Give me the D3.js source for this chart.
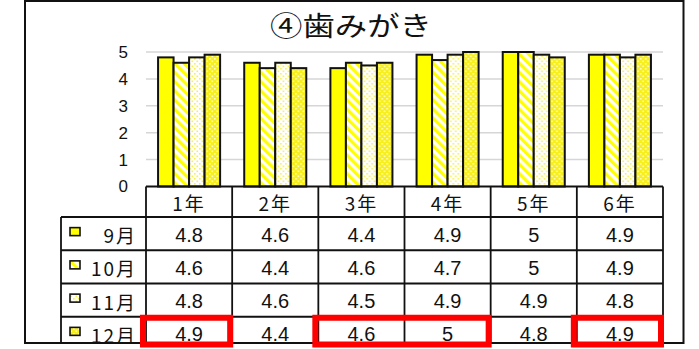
<!DOCTYPE html>
<html>
<head>
<meta charset="utf-8">
<script src="https://cdn.jsdelivr.net/npm/d3@7"></script>
<style>
  html, body { margin: 0; padding: 0; background: #fff; }
  svg { display: block; }
</style>
</head>
<body>
<svg id="chart" width="699" height="349"></svg>
<script>
// Tooth brushing survey: average score per grade, four monthly surveys
const title = "④歯みがき";
const grades = ["1年", "2年", "3年", "4年", "5年", "6年"];
const months = ["9月", "10月", "11月", "12月"];
const sep = [4.8, 4.6, 4.4, 4.9, 5, 4.9];
const oct = [4.6, 4.4, 4.6, 4.7, 5, 4.9];
const nov = [4.8, 4.6, 4.5, 4.9, 4.9, 4.8];
const dec = [4.9, 4.4, 4.6, 5, 4.8, 4.9];
const yTicks = [0, 1, 2, 3, 4, 5];
// December cells outlined in red (runs of adjacent grades)
const highlightRuns = [["1年"], ["3年", "4年"], ["6年"]];

const seriesValues = [sep, oct, nov, dec];
const fills = ["#ffff00", "url(#stripe)", "url(#dotLight)", "url(#dotDense)"];

const svg = d3.select("#chart");
const defs = svg.append("defs");

// diagonal yellow stripes on white
const stripe = defs.append("pattern").attr("id", "stripe")
  .attr("patternUnits", "userSpaceOnUse").attr("width", 6.5).attr("height", 6.5)
  .attr("patternTransform", "rotate(-45)");
stripe.append("rect").attr("width", 6.5).attr("height", 6.5).attr("fill", "#fff");
stripe.append("rect").attr("width", 3.2).attr("height", 6.5).attr("fill", "#ffff00");

// sparse yellow dots on white
const dotL = defs.append("pattern").attr("id", "dotLight")
  .attr("patternUnits", "userSpaceOnUse").attr("width", 5).attr("height", 5);
dotL.append("rect").attr("width", 5).attr("height", 5).attr("fill", "#fff");
dotL.append("rect").attr("x", 0.5).attr("y", 0.5).attr("width", 1.6).attr("height", 1.6).attr("fill", "#f6f24a");
dotL.append("rect").attr("x", 3).attr("y", 3).attr("width", 1.6).attr("height", 1.6).attr("fill", "#f6f24a");

// white dots on yellow
const dotD = defs.append("pattern").attr("id", "dotDense")
  .attr("patternUnits", "userSpaceOnUse").attr("width", 5).attr("height", 5);
dotD.append("rect").attr("width", 5).attr("height", 5).attr("fill", "#f7ef1a");
dotD.append("rect").attr("x", 0.5).attr("y", 0.5).attr("width", 1.6).attr("height", 1.6).attr("fill", "#fffbd0");
dotD.append("rect").attr("x", 3).attr("y", 3).attr("width", 1.6).attr("height", 1.6).attr("fill", "#fffbd0");

const plotLeft = 146, plotRight = 663, plotTop = 52, axisY = 186.5;
const tableLeft = 61, headerBottom = 217, frameBottom = 343;

const x0 = d3.scaleBand().domain(grades).range([plotLeft, plotRight]);
const x1 = d3.scaleBand().domain(months)
  .range([x0.bandwidth() * 0.14, x0.bandwidth() * 0.86]);
const y = d3.scaleLinear().domain([0, 5]).range([axisY, plotTop]);
const rowY = d3.scaleBand().domain(months).range([headerBottom, headerBottom + 4 * 33.25]);

// outer frame
svg.append("rect").attr("x", 25).attr("y", 1).attr("width", 658.5).attr("height", frameBottom - 1)
  .attr("fill", "#fff").attr("stroke", "#111").attr("stroke-width", 2);

// title
svg.append("text").attr("x", 351).attr("y", 36).attr("text-anchor", "middle")
  .attr("font-family", "'Noto Sans CJK JP', sans-serif").attr("font-size", 27)
  .attr("font-weight", 400).attr("fill", "#111")
  .attr("textLength", 162).attr("lengthAdjust", "spacingAndGlyphs")
  .text(title);

// gridlines
svg.append("g").selectAll("line").data(yTicks.filter(d => d > 0)).join("line")
  .attr("x1", plotLeft).attr("x2", plotRight)
  .attr("y1", d => y(d)).attr("y2", d => y(d))
  .attr("stroke", "#d6d6d6").attr("stroke-width", 1.5);

// y axis labels
const yAxis = d3.axisLeft(y).tickValues(yTicks).tickSize(0).tickPadding(0).tickFormat(d3.format("d"));
const yg = svg.append("g").attr("transform", "translate(128,0)").call(yAxis);
yg.select(".domain").remove();
yg.selectAll("text").attr("font-family", "'Liberation Sans', Arial, sans-serif")
  .attr("font-size", 17).attr("fill", "#111");

// bars
const groups = svg.append("g").selectAll("g").data(grades).join("g")
  .attr("transform", g => `translate(${x0(g)},0)`);
groups.selectAll("rect")
  .data((g, gi) => months.map((m, si) => ({ m, si, v: seriesValues[si][gi] })))
  .join("rect")
  .attr("x", d => x1(d.m)).attr("width", x1.bandwidth())
  .attr("y", d => y(d.v)).attr("height", d => axisY - y(d.v))
  .attr("fill", d => fills[d.si])
  .attr("stroke", "#111").attr("stroke-width", 2);

// data table
const table = svg.append("g");
const cellFont = "'Liberation Sans', Arial, sans-serif";
const cjkFont = "'Noto Sans CJK JP', sans-serif";
const lineStyle = sel => sel.attr("stroke", "#111").attr("stroke-width", 1.8);

// horizontal rules
table.append("line").attr("x1", plotLeft).attr("x2", plotRight).attr("y1", axisY).attr("y2", axisY).call(lineStyle);
table.selectAll("line.row").data(months).join("line").attr("class", "row")
  .attr("x1", tableLeft).attr("x2", plotRight)
  .attr("y1", m => rowY(m)).attr("y2", m => rowY(m)).call(lineStyle);
// vertical rules
const colEdges = grades.map(g => x0(g)).concat([plotRight]);
table.selectAll("line.col").data(colEdges).join("line").attr("class", "col")
  .attr("x1", d => d).attr("x2", d => d).attr("y1", axisY).attr("y2", frameBottom).call(lineStyle);
table.append("line").attr("x1", tableLeft).attr("x2", tableLeft)
  .attr("y1", headerBottom).attr("y2", frameBottom).call(lineStyle);

// header labels
table.selectAll("text.head").data(grades).join("text").attr("class", "head")
  .attr("x", g => x0(g) + x0.bandwidth() / 2).attr("y", (axisY + headerBottom) / 2 + 1)
  .attr("text-anchor", "middle").attr("dominant-baseline", "central")
  .attr("font-family", cjkFont).attr("font-size", 19).attr("letter-spacing", 2)
  .attr("fill", "#111").text(g => g);

// legend keys and month labels
const clipId = "tableClip";
defs.append("clipPath").attr("id", clipId).append("rect")
  .attr("x", 0).attr("y", 0).attr("width", 699).attr("height", frameBottom);
const rows = table.append("g").attr("clip-path", `url(#${clipId})`)
  .selectAll("g").data(months).join("g");
rows.append("rect")
  .attr("x", 70).attr("y", m => rowY(m) + rowY.bandwidth() / 2 - 6)
  .attr("width", 10).attr("height", 8)
  .attr("fill", (m, i) => fills[i]).attr("stroke", "#111").attr("stroke-width", 1.6);
rows.append("text")
  .attr("x", 137).attr("y", m => rowY(m) + rowY.bandwidth() / 2 + 1)
  .attr("text-anchor", "end").attr("dominant-baseline", "central")
  .attr("font-family", cjkFont).attr("font-size", 19).attr("letter-spacing", 2)
  .attr("fill", "#111").text(m => m);
rows.selectAll("text.val")
  .data((m, si) => grades.map((g, gi) => ({ g, v: seriesValues[si][gi], m })))
  .join("text").attr("class", "val")
  .attr("x", d => x0(d.g) + x0.bandwidth() / 2)
  .attr("y", d => rowY(d.m) + rowY.bandwidth() / 2 + 1)
  .attr("text-anchor", "middle").attr("dominant-baseline", "central")
  .attr("font-family", cellFont).attr("font-size", 20).attr("fill", "#111")
  .text(d => d.v);

// red outlines around highlighted December cells
const decTop = rowY("12月");
svg.append("g").selectAll("rect").data(highlightRuns).join("rect")
  .attr("x", run => x0(run[0]) - 3)
  .attr("width", run => x0(run[run.length - 1]) + x0.bandwidth() - x0(run[0]) + 1)
  .attr("y", decTop + 1).attr("height", 344.5 - decTop - 1)
  .attr("fill", "none").attr("stroke", "#ff0000").attr("stroke-width", 6);
</script>
</body>
</html>
